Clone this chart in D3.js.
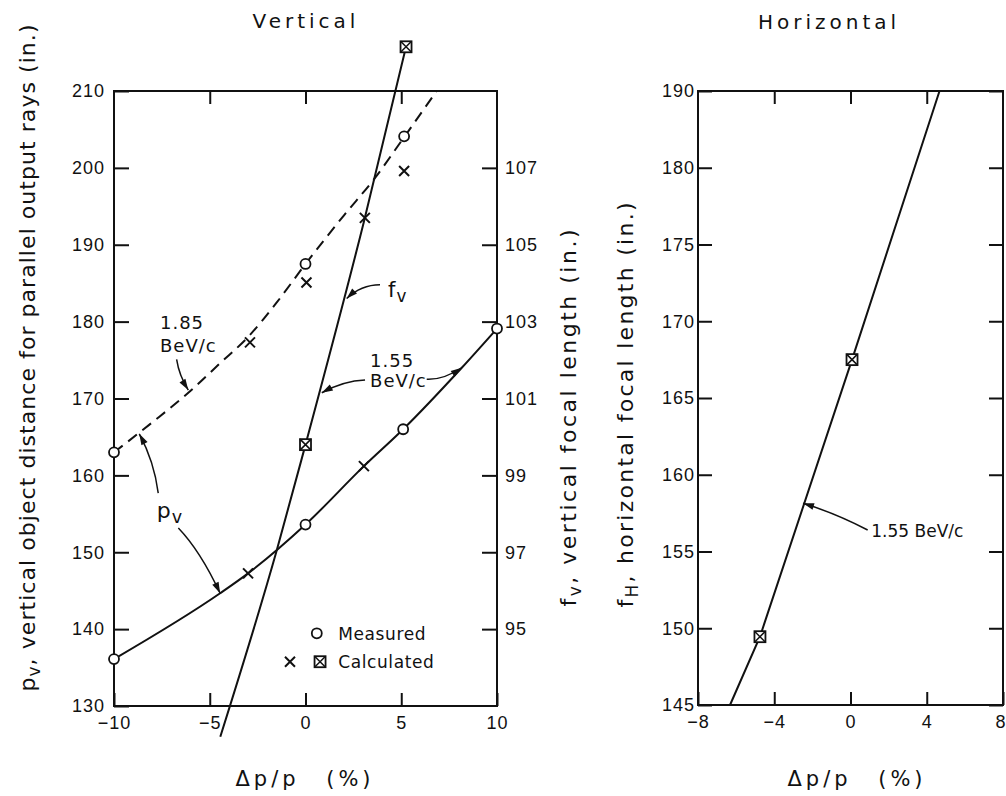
<!DOCTYPE html>
<html><head><meta charset="utf-8">
<script src="https://cdn.jsdelivr.net/npm/d3@7"></script>
<style>
body{margin:0;background:#fff}
svg{display:block;font-family:"DejaVu Sans",sans-serif;background:#fff}
text{fill:#111}
</style></head><body>
<svg id="c" width="1006" height="796"></svg>
<script>
// ---------- data ----------
const vxTicks = [-10,-5,0,5,10];
const vxTopTicks = [-5,0,5];
const pvTicks = [130,140,150,160,170,180,190,200,210];
const fvTicks = [95,97,99,101,103,105,107];
const hxTicks = [-8,-4,0,4,8];
const hxTopTicks = [-4,0,4];
const fhTickValues = [145,150,155,160,165,170,175,180,185];
const fhTickLabels = ["145","150","155","160","165","170","175","180","190"];

// Vertical panel (x: Δp/p %, y: p_v in.)
const curve185 = [[-10,163],[-8,166.9],[-6,171.0],[-4.5,174.5],[-3,178.0],[-1.5,182.5],[0,187.5],[2,193.8],[3.6,198.6],[5.15,204],[6.85,210]];
const curve155 = [[-10,136.1],[-4.46,144.66],[-3,147.25],[0,153.6],[3.05,161.2],[5.1,166],[8.16,174],[10,179.1]];
const measured185 = [[-10,163],[0,187.5],[5.15,204.1]];
const measured155 = [[-10,136.1],[0,153.6],[5.1,166],[10,179.1]];
const calc185 = [[-2.9,177.3],[0.05,185.1],[5.15,199.6]];
const calc155 = [[-3,147.25],[3.05,161.2]];
// f_v (right axis, in.)
const fvLine = [[-4.45,92.2],[-1.5,97.05],[0,99.8],[3.05,105.6],[5.25,110.15]];
const calcFvX = [[3.1,105.7]];
const calcFvBox = [[0,99.8],[5.25,110.15]];
// Horizontal panel (x: Δp/p %, y: f_H in.)
const fhLine = [[-6.32,145],[-4.75,149.45],[0.08,167.5],[4.67,185]];
const calcFhBox = [[-4.75,149.45],[0.08,167.5]];

// ---------- setup ----------
const svg = d3.select("#c");
const xL = d3.scaleLinear([-10,10],[114,497]);
const yL = d3.scaleLinear([130,210],[706,91]);
const yF = d3.scaleLinear([93,109],[706,91]);
const xR = d3.scaleLinear([-8,8],[698,1003]);
const yR = d3.scaleLinear([145,185],[705,91]);

const SW = 2;
function styleAxis(g){
  g.select(".domain").remove();
  g.selectAll(".tick line").attr("stroke","#111").attr("stroke-width",SW);
  g.selectAll(".tick text").attr("font-size",18).attr("letter-spacing",1).attr("fill","#111");
}

// frames
svg.append("rect").attr("x",xL(-10)).attr("y",yL(210)).attr("width",xL(10)-xL(-10)).attr("height",yL(130)-yL(210))
  .attr("fill","none").attr("stroke","#111").attr("stroke-width",SW);
svg.append("rect").attr("x",xR(-8)).attr("y",yR(185)).attr("width",xR(8)-xR(-8)).attr("height",yR(145)-yR(185))
  .attr("fill","none").attr("stroke","#111").attr("stroke-width",SW);

// left panel axes
svg.append("g").attr("transform",`translate(${xL(-10)},0)`)
  .call(d3.axisLeft(yL).tickValues(pvTicks).tickSize(-15).tickPadding(9).tickFormat(d3.format("d"))).call(styleAxis);
svg.append("g").attr("transform",`translate(${xL(10)},0)`)
  .call(d3.axisRight(yF).tickValues(fvTicks).tickSize(-15).tickPadding(8).tickFormat(d3.format("d"))).call(styleAxis);
svg.append("g").attr("transform",`translate(0,${yL(130)})`)
  .call(d3.axisBottom(xL).tickValues(vxTicks).tickSize(-13).tickPadding(10)).call(styleAxis);
svg.append("g").attr("transform",`translate(0,${yL(210)})`)
  .call(d3.axisTop(xL).tickValues(vxTopTicks).tickSize(-13).tickFormat("")).call(styleAxis);

// right panel axes
svg.append("g").attr("transform",`translate(${xR(-8)},0)`)
  .call(d3.axisLeft(yR).tickValues(fhTickValues).tickSize(-14).tickPadding(3).tickFormat((d,i)=>fhTickLabels[i])).call(styleAxis);
svg.append("g").attr("transform",`translate(${xR(8)},0)`)
  .call(d3.axisRight(yR).tickValues(fhTickValues).tickSize(-14).tickFormat("")).call(styleAxis);
const hb = svg.append("g").attr("transform",`translate(0,${yR(145)})`)
  .call(d3.axisBottom(xR).tickValues(hxTicks).tickSize(-13).tickPadding(10)).call(styleAxis);
hb.selectAll(".tick text").filter(d=>d===8).attr("text-anchor","end").attr("dx",3);
svg.append("g").attr("transform",`translate(0,${yR(185)})`)
  .call(d3.axisTop(xR).tickValues(hxTopTicks).tickSize(-13).tickFormat("")).call(styleAxis);

// ---------- lines ----------
const lineL = d3.line().x(d=>xL(d[0])).y(d=>yL(d[1])).curve(d3.curveMonotoneX);
const lineF = d3.line().x(d=>xL(d[0])).y(d=>yF(d[1])).curve(d3.curveMonotoneX);
const lineH = d3.line().x(d=>xR(d[0])).y(d=>yR(d[1]));

svg.append("path").attr("d",lineL(curve185)).attr("fill","none").attr("stroke","#111").attr("stroke-width",SW).attr("stroke-dasharray","11,7");
svg.append("path").attr("d",lineL(curve155)).attr("fill","none").attr("stroke","#111").attr("stroke-width",SW);
svg.append("path").attr("d",lineF(fvLine)).attr("fill","none").attr("stroke","#111").attr("stroke-width",SW);
svg.append("path").attr("d",lineH(fhLine)).attr("fill","none").attr("stroke","#111").attr("stroke-width",SW);

// ---------- markers ----------
function circles(data,x,y){
  svg.append("g").selectAll("circle").data(data).join("circle")
    .attr("cx",d=>x(d[0])).attr("cy",d=>y(d[1])).attr("r",5)
    .attr("fill","#fff").attr("stroke","#111").attr("stroke-width",1.8);
}
function crosses(data,x,y){
  const g = svg.append("g").attr("stroke","#111").attr("stroke-width",2);
  g.selectAll("path").data(data).join("path")
    .attr("d",d=>{const cx=x(d[0]),cy=y(d[1]),s=5;return `M${cx-s},${cy-s}L${cx+s},${cy+s}M${cx-s},${cy+s}L${cx+s},${cy-s}`;});
}
function boxes(data,x,y){
  const g = svg.append("g");
  data.forEach(d=>{
    const cx=x(d[0]),cy=y(d[1]),s=5.5;
    g.append("rect").attr("x",cx-s).attr("y",cy-s).attr("width",2*s).attr("height",2*s)
      .attr("fill","#fff").attr("stroke","#111").attr("stroke-width",1.8);
    g.append("path").attr("d",`M${cx-s},${cy-s}L${cx+s},${cy+s}M${cx-s},${cy+s}L${cx+s},${cy-s}`)
      .attr("stroke","#111").attr("stroke-width",1.5);
  });
}
circles(measured185,xL,yL);
circles(measured155,xL,yL);
crosses(calc185,xL,yL);
crosses(calc155,xL,yL);
crosses(calcFvX,xL,yF);
boxes(calcFvBox,xL,yF);
boxes(calcFhBox,xR,yR);

// ---------- leaders with arrowheads ----------
function leader(x,y,s,c,e){
  const p0=[x(s[0]),y(s[1])], p1=[x(c[0]),y(c[1])], p2=[x(e[0]),y(e[1])];
  svg.append("path").attr("d",`M${p0[0]},${p0[1]}Q${p1[0]},${p1[1]} ${p2[0]},${p2[1]}`)
    .attr("fill","none").attr("stroke","#111").attr("stroke-width",1.5);
  const dx=p2[0]-p1[0], dy=p2[1]-p1[1], L=Math.hypot(dx,dy), ux=dx/L, uy=dy/L;
  const len=11, w=3.5;
  const bx=p2[0]-ux*len, by=p2[1]-uy*len;
  svg.append("path").attr("d",`M${p2[0]},${p2[1]}L${bx-uy*w},${by+ux*w}L${bx+uy*w},${by-ux*w}Z`).attr("fill","#111");
}
leader(xL,yL,[3.89,184.8],[2.9,184.8],[2.15,183.0]);
leader(xL,yL,[3.11,172.4],[2.0,172.3],[0.85,170.75]);
leader(xL,yL,[6.33,172.5],[7.2,172.4],[8.16,174.0]);
leader(xL,yL,[-6.73,175.1],[-6.6,173.0],[-6.12,171.1]);
leader(xL,yL,[-7.69,157.7],[-7.9,161.8],[-8.68,165.4]);
leader(xL,yL,[-6.64,153.15],[-5.5,150.2],[-4.46,144.66]);
leader(xR,yR,[0.9,156.4],[-0.8,157.5],[-2.49,158.14]);

// ---------- annotation text ----------
function label(x,y,pos,txt,size,sub){
  const t = svg.append("text").attr("x",x(pos[0])).attr("y",y(pos[1])).attr("font-size",size).attr("letter-spacing",1).text(txt);
  if(sub) t.append("tspan").attr("dy",5).attr("font-size",size*0.8).text(sub);
  return t;
}
label(xL,yL,[4.31,183.2],"f",21,"v");
label(xL,yL,[3.37,174.1],"1.55",18);
label(xL,yL,[3.37,171.45],"BeV/c",18);
label(xL,yL,[-7.6,179.1],"1.85",18);
label(xL,yL,[-7.6,176.1],"BeV/c",18);
label(xL,yL,[-7.77,154.4],"p",22,"v");
svg.append("text").attr("x",xR(1.09)).attr("y",yR(155.96)).attr("font-size",17).text("1.55 BeV/c");

// legend
circles([[0.59,139.46]],xL,yL);
crosses([[-0.81,135.76]],xL,yL);
boxes([[0.76,135.76]],xL,yL);
svg.append("text").attr("x",xL(1.71)).attr("y",yL(138.6)).attr("font-size",17).attr("letter-spacing",0.6).text("Measured");
svg.append("text").attr("x",xL(1.71)).attr("y",yL(134.9)).attr("font-size",17).attr("letter-spacing",0.6).text("Calculated");

// ---------- titles ----------
svg.append("text").attr("x",306).attr("y",28).attr("text-anchor","middle").attr("font-size",20).attr("letter-spacing",4).text("Vertical");
svg.append("text").attr("x",829).attr("y",29).attr("text-anchor","middle").attr("font-size",20).attr("letter-spacing",4).text("Horizontal");

function xTitle(cx){
  svg.append("text").attr("x",cx).attr("y",786).attr("text-anchor","middle").attr("font-size",21)
    .attr("letter-spacing",4).attr("word-spacing",16).text("Δp/p (%)");
}
xTitle(305); xTitle(857);

function yTitle(bx,cy,len,main,sub,rest){
  const t = svg.append("text").attr("transform",`translate(${bx},${cy}) rotate(-90)`).attr("text-anchor","middle")
    .attr("font-size",22).attr("textLength",len).attr("lengthAdjust","spacing");
  t.append("tspan").text(main);
  t.append("tspan").attr("dy",5).attr("font-size",17).text(sub);
  t.append("tspan").attr("dy",-5).text(rest);
}
yTitle(35,358,667,"p","v",", vertical  object  distance  for  parallel  output  rays  (in.)");
yTitle(576,418,377,"f","v",", vertical  focal  length  (in.)");
yTitle(633,405,405,"f","H",", horizontal  focal  length  (in.)");
</script>
</body></html>
